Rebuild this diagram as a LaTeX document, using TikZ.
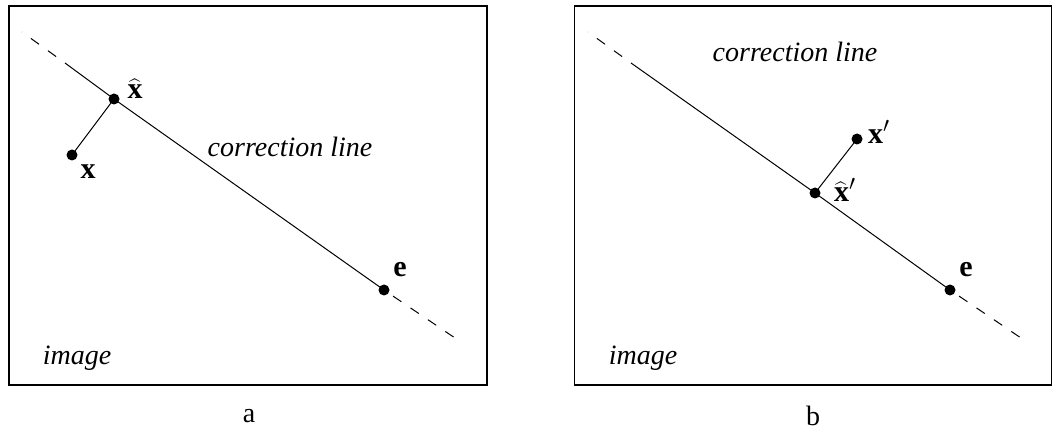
\documentclass[tikz,border=0pt]{standalone}
\usepackage{fontspec}
\setmainfont{Liberation Serif}
\begin{document}
\begin{tikzpicture}[x=0.5pt,y=-0.5pt,
  frame/.style={draw,line width=0.8pt},
  pt/.style={circle,fill,inner sep=0pt,minimum size=5.5pt},
  ln/.style={line width=0.5pt},
  dsh/.style={line width=0.5pt,dash pattern=on 5pt off 5.5pt,dash phase=5pt},
  lbl/.style={inner sep=0pt,font=\fontsize{15}{17}\selectfont},
  txt/.style={inner sep=0pt,font=\fontsize{14}{16}\selectfont},
  ital/.style={inner sep=0pt,font=\fontsize{14}{16}\selectfont\itshape}]
\useasboundingbox (0,0) rectangle (1059,432);
% ---------- panel a ----------
\node[frame,minimum width=478pt*0.5,minimum height=379pt*0.5,inner sep=0pt] (boxa) at (248,195.5) {};
\coordinate (a1) at (22,32);
\coordinate (a2) at (65,63);
\coordinate (a3) at (455,338);
\node[pt] (xh) at (114,99) {};
\node[pt] (x) at (72,155) {};
\node[pt] (e1) at (384,290) {};
\draw[dsh] (a2) -- (a1);
\draw[ln] (a2) -- (xh.center) -- (e1.center);
\draw[dsh] (e1.center) -- (a3);
\draw[ln] (xh.center) -- (x.center);
\node[lbl] (lx) at (88,172) {$\mathbf{x}$};
\node[lbl] (lxh) at (135,89) {$\widehat{\mathbf{x}}$};
\node[lbl] (le1) at (400,270) {$\mathbf{e}$};
\node[ital] (cl1) at (290,147) {correction line};
\node[ital] (im1) at (77,358) {image};
\node[txt] (la) at (249,416) {a};
% ---------- panel b ----------
\node[frame,minimum width=477pt*0.5,minimum height=379pt*0.5,inner sep=0pt] (boxb) at (813,195.5) {};
\coordinate (b1) at (588,32);
\coordinate (b2) at (631,63);
\coordinate (b3) at (1021,338);
\node[pt] (xph) at (815,193) {};
\node[pt] (xp) at (857,139) {};
\node[pt] (e2) at (950,290) {};
\draw[dsh] (b2) -- (b1);
\draw[ln] (b2) -- (xph.center) -- (e2.center);
\draw[dsh] (e2.center) -- (b3);
\draw[ln] (xph.center) -- (xp.center);
\node[lbl] (lxp) at (879,132) {$\mathbf{x}'$};
\node[lbl] (lxph) at (845,190) {$\widehat{\mathbf{x}}'$};
\node[lbl] (le2) at (966,270) {$\mathbf{e}$};
\node[ital] (cl2) at (795,52) {correction line};
\node[ital] (im2) at (643,358) {image};
\node[txt] (lb) at (813,416) {b};
\end{tikzpicture}
\end{document}
